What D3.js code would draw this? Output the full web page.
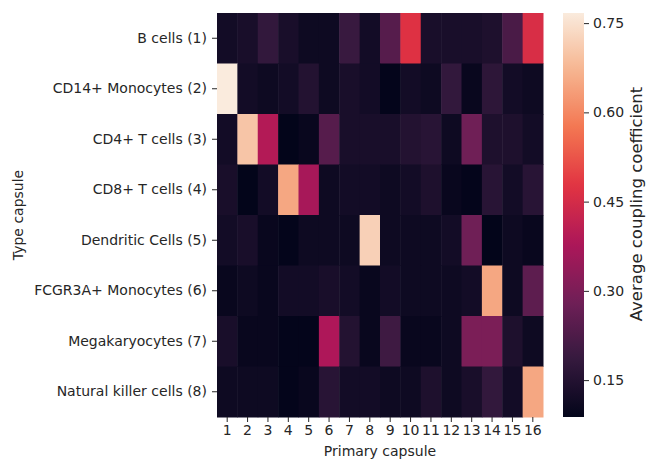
<!DOCTYPE html>
<html>
<head>
<meta charset="utf-8">
<script src="https://cdn.jsdelivr.net/npm/d3@7"></script>
<style>
  body { margin: 0; background: #fff; }
  svg text { font-family: "DejaVu Sans", sans-serif; fill: #262626; }
</style>
</head>
<body>
<svg id="chart" width="646" height="461"></svg>
<script>
const rowLabels = ["B cells (1)", "CD14+ Monocytes (2)", "CD4+ T cells (3)", "CD8+ T cells (4)",
  "Dendritic Cells (5)", "FCGR3A+ Monocytes (6)", "Megakaryocytes (7)", "Natural killer cells (8)"];
const colLabels = ["1","2","3","4","5","6","7","8","9","10","11","12","13","14","15","16"];

const bCells      = [0.12,0.13,0.18,0.13,0.11,0.11,0.19,0.12,0.24,0.47,0.13,0.13,0.13,0.14,0.22,0.46];
const cd14Mono    = [0.77,0.12,0.11,0.12,0.15,0.11,0.13,0.12,0.09,0.12,0.11,0.18,0.10,0.17,0.12,0.11];
const cd4T        = [0.12,0.70,0.39,0.08,0.10,0.24,0.13,0.13,0.13,0.15,0.16,0.11,0.28,0.14,0.14,0.12];
const cd8T        = [0.13,0.08,0.12,0.65,0.37,0.11,0.12,0.12,0.11,0.12,0.14,0.10,0.09,0.16,0.12,0.16];
const dendritic   = [0.12,0.13,0.10,0.09,0.11,0.11,0.11,0.72,0.11,0.11,0.11,0.12,0.28,0.08,0.11,0.10];
const fcgr3aMono  = [0.10,0.11,0.10,0.12,0.12,0.13,0.12,0.10,0.12,0.11,0.11,0.11,0.12,0.65,0.11,0.25];
const megakaryo   = [0.13,0.10,0.10,0.09,0.09,0.38,0.15,0.10,0.20,0.10,0.10,0.11,0.30,0.30,0.14,0.11];
const nkCells     = [0.11,0.11,0.11,0.09,0.10,0.16,0.12,0.12,0.11,0.11,0.14,0.11,0.13,0.18,0.12,0.65];
const matrix = [bCells, cd14Mono, cd4T, cd8T, dendritic, fcgr3aMono, megakaryo, nkCells];

const colorbarTicks = [0.15, 0.30, 0.45, 0.60, 0.75];
const vMin = 0.088, vMax = 0.767;

// approximation of seaborn "rocket" colormap
const rocketStops = ["#03051a","#35193e","#701f57","#ad1759","#e13342","#f37651","#f6b48f","#faebdd"];
const rocket = d3.scaleLinear()
  .domain(d3.range(rocketStops.length).map(i => i / (rocketStops.length - 1)))
  .range(rocketStops).interpolate(d3.interpolateRgb).clamp(true);
const color = v => rocket((v - vMin) / (vMax - vMin));

const svg = d3.select("#chart");
const hm = { left: 217, right: 543, top: 13, bottom: 417 };

const x = d3.scaleBand().domain(colLabels).range([hm.left, hm.right]);
const y = d3.scaleBand().domain(rowLabels).range([hm.top, hm.bottom]);

const cells = [];
matrix.forEach((row, i) => row.forEach((v, j) => cells.push({ r: rowLabels[i], c: colLabels[j], v })));

svg.append("g").selectAll("rect").data(cells).join("rect")
  .attr("x", d => x(d.c)).attr("y", d => y(d.r))
  .attr("width", x.bandwidth() + 0.5).attr("height", y.bandwidth() + 0.5)
  .attr("fill", d => color(d.v));

const fontSize = 14;
const xAxis = svg.append("g").attr("transform", `translate(0,${hm.bottom})`)
  .call(d3.axisBottom(x).tickSize(5).tickPadding(3));
const yAxis = svg.append("g").attr("transform", `translate(${hm.left},0)`)
  .call(d3.axisLeft(y).tickSize(5).tickPadding(5));
[xAxis, yAxis].forEach(g => {
  g.select(".domain").remove();
  g.selectAll(".tick line").attr("stroke", "#262626").attr("stroke-width", 1);
  g.selectAll(".tick text").attr("font-size", fontSize).attr("font-family", "DejaVu Sans").style("fill", "#262626");
});

svg.append("text").attr("x", (hm.left + hm.right) / 2).attr("y", 456)
  .attr("text-anchor", "middle").attr("font-size", fontSize).text("Primary capsule");
svg.append("text").attr("transform", `translate(19,${(hm.top + hm.bottom) / 2}) rotate(-90)`)
  .attr("text-anchor", "middle").attr("dominant-baseline", "middle")
  .attr("font-size", fontSize).text("Type capsule");

// colorbar
const cb = { left: 563, right: 584, top: 13, bottom: 417 };
const cbScale = d3.scaleLinear().domain([vMin, vMax]).range([cb.bottom, cb.top]);
const defs = svg.append("defs");
const grad = defs.append("linearGradient").attr("id", "cbgrad")
  .attr("x1", 0).attr("y1", 1).attr("x2", 0).attr("y2", 0);
d3.range(0, 1.0001, 0.02).forEach(t => {
  grad.append("stop").attr("offset", t).attr("stop-color", rocket(t));
});
svg.append("rect").attr("x", cb.left).attr("y", cb.top)
  .attr("width", cb.right - cb.left).attr("height", cb.bottom - cb.top)
  .attr("fill", "url(#cbgrad)");
const cbAxis = svg.append("g").attr("transform", `translate(${cb.right},0)`)
  .call(d3.axisRight(cbScale).tickValues(colorbarTicks).tickFormat(d3.format(".2f")).tickSize(5).tickPadding(4));
cbAxis.select(".domain").remove();
cbAxis.selectAll(".tick line").attr("stroke", "#262626");
cbAxis.selectAll(".tick text").attr("font-size", fontSize).attr("font-family", "DejaVu Sans").style("fill", "#262626");

svg.append("text").attr("transform", `translate(637,204) rotate(-90)`)
  .attr("text-anchor", "middle").attr("dominant-baseline", "middle")
  .attr("font-size", 16.5).text("Average coupling coefficient");
</script>
</body>
</html>
